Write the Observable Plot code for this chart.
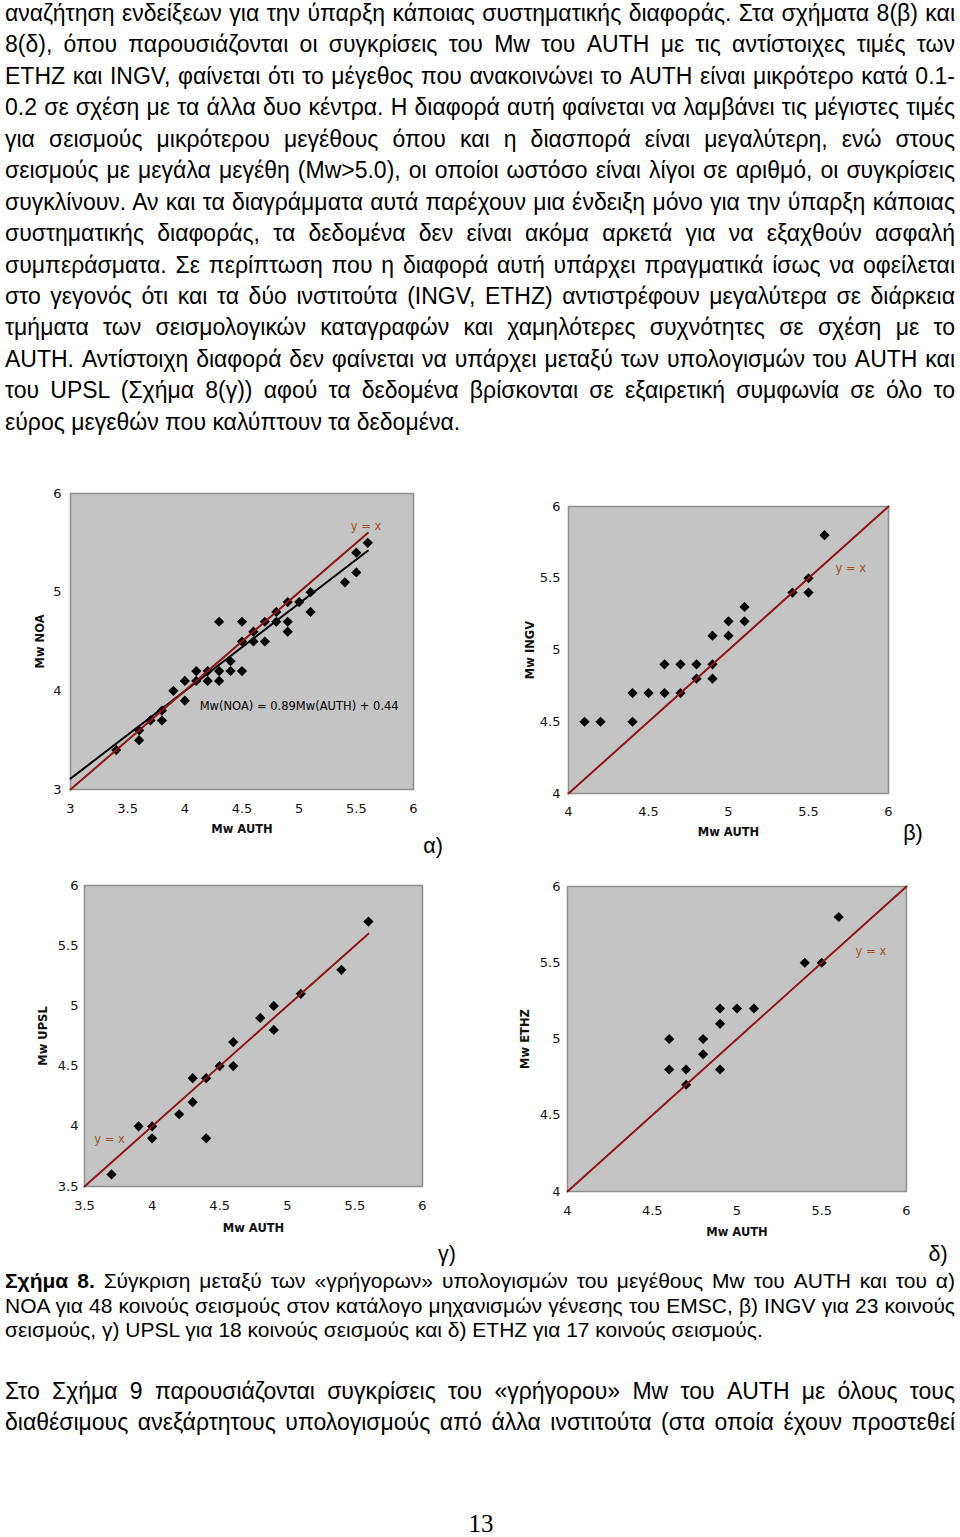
<!DOCTYPE html>
<html><head><meta charset="utf-8">
<script src="https://cdn.jsdelivr.net/npm/d3@7"></script>
<script src="https://cdn.jsdelivr.net/npm/@observablehq/plot@0.6"></script>
<style>
html,body{margin:0;padding:0;background:#fff;}
body{width:960px;height:1537px;position:relative;overflow:hidden;font-family:"Liberation Sans",Arial,sans-serif;color:#000;}
.ln{position:absolute;left:5px;width:950px;white-space:nowrap;}
.j{text-align:justify;text-align-last:justify;white-space:normal;}
.abs{position:absolute;}
.plot{position:absolute;}
</style></head>
<body>
<div id="page"></div>
<script>
// ---------- text ----------
const para1 = [
"αναζήτηση ενδείξεων για την ύπαρξη κάποιας συστηματικής διαφοράς. Στα σχήματα 8(β) και",
"8(δ), όπου παρουσιάζονται οι συγκρίσεις του Mw του AUTH με τις αντίστοιχες τιμές των",
"ETHZ και INGV, φαίνεται ότι το μέγεθος που ανακοινώνει το AUTH είναι μικρότερο κατά 0.1-",
"0.2 σε σχέση με τα άλλα δυο κέντρα. Η διαφορά αυτή φαίνεται να λαμβάνει τις μέγιστες τιμές",
"για σεισμούς μικρότερου μεγέθους όπου και η διασπορά είναι μεγαλύτερη, ενώ στους",
"σεισμούς με μεγάλα μεγέθη (Mw>5.0), οι οποίοι ωστόσο είναι λίγοι σε αριθμό, οι συγκρίσεις",
"συγκλίνουν. Αν και τα διαγράμματα αυτά παρέχουν μια ένδειξη μόνο για την ύπαρξη κάποιας",
"συστηματικής διαφοράς, τα δεδομένα δεν είναι ακόμα αρκετά για να εξαχθούν ασφαλή",
"συμπεράσματα. Σε περίπτωση που η διαφορά αυτή υπάρχει πραγματικά ίσως να οφείλεται",
"στο γεγονός ότι και τα δύο ινστιτούτα (INGV, ETHZ) αντιστρέφουν μεγαλύτερα σε διάρκεια",
"τμήματα των σεισμολογικών καταγραφών και χαμηλότερες συχνότητες σε σχέση με το",
"AUTH. Αντίστοιχη διαφορά δεν φαίνεται να υπάρχει μεταξύ των υπολογισμών του AUTH και",
"του UPSL (Σχήμα 8(γ)) αφού τα δεδομένα βρίσκονται σε εξαιρετική συμφωνία σε όλο το",
"εύρος μεγεθών που καλύπτουν τα δεδομένα."
];
const captionBold = "Σχήμα 8.";
const caption = [
" Σύγκριση μεταξύ των «γρήγορων» υπολογισμών του μεγέθους Mw του AUTH και του α)",
"NOA για 48 κοινούς σεισμούς στον κατάλογο μηχανισμών γένεσης του EMSC, β) INGV για 23 κοινούς",
"σεισμούς, γ) UPSL για 18 κοινούς σεισμούς και δ) ETHZ για 17 κοινούς σεισμούς."
];
const para2 = [
"Στο Σχήμα 9 παρουσιάζονται συγκρίσεις του «γρήγορου» Mw του AUTH με όλους τους",
"διαθέσιμους ανεξάρτητους υπολογισμούς από άλλα ινστιτούτα (στα οποία έχουν προστεθεί"
];
const panelLabels = ["α)", "β)", "γ)", "δ)"];
const pageNumber = "13";

// ---------- data ----------
// (α) NOA vs AUTH
const noaAuth = [3.4,3.6,3.6,3.7,3.8,3.8,3.9,4.0,4.0,4.1,4.1,4.2,4.2,4.3,4.3,4.3,4.4,4.4,4.5,4.5,4.5,4.6,4.6,4.7,4.7,4.8,4.8,4.9,4.9,4.9,5.0,5.1,5.1,5.4,5.5,5.5,5.6];
const noaMw   = [3.4,3.6,3.5,3.7,3.8,3.7,4.0,4.1,3.9,4.2,4.1,4.2,4.1,4.7,4.2,4.1,4.3,4.2,4.7,4.5,4.2,4.6,4.5,4.7,4.5,4.8,4.7,4.9,4.7,4.6,4.9,5.0,4.8,5.1,5.4,5.2,5.5];
const noaFitX = [3, 5.6];
const noaFitY = [3.11, 5.42];
const noaUnityX = [3, 5.6];
// (β) INGV vs AUTH
const ingvAuth = [4.1,4.2,4.4,4.4,4.5,4.6,4.6,4.7,4.7,4.8,4.8,4.9,4.9,4.9,5.0,5.0,5.1,5.1,5.4,5.5,5.5,5.6];
const ingvMw   = [4.5,4.5,4.7,4.5,4.7,4.9,4.7,4.9,4.7,4.9,4.8,5.1,4.9,4.8,5.2,5.1,5.3,5.2,5.4,5.5,5.4,5.8];
const ingvUnityX = [4, 6];
// (γ) UPSL vs AUTH
const upslAuth = [3.7,3.9,4.0,4.0,4.2,4.3,4.3,4.4,4.4,4.5,4.6,4.6,4.8,4.9,4.9,5.1,5.4,5.6];
const upslMw   = [3.6,4.0,4.0,3.9,4.1,4.4,4.2,4.4,3.9,4.5,4.7,4.5,4.9,5.0,4.8,5.1,5.3,5.7];
const upslUnityX = [3.5, 5.6];
// (δ) ETHZ vs AUTH
const ethzAuth = [4.6,4.6,4.7,4.7,4.8,4.8,4.9,4.9,4.9,5.0,5.1,5.4,5.5,5.6];
const ethzMw   = [5.0,4.8,4.8,4.7,5.0,4.9,5.2,5.1,4.8,5.2,5.2,5.5,5.5,5.8];
const ethzUnityX = [4, 6];

// ticks
const ticksA = {x:[3,3.5,4,4.5,5,5.5,6], y:[3,4,5,6]};
const ticksB = {x:[4,4.5,5,5.5,6], y:[4,4.5,5,5.5,6]};
const ticksC = {x:[3.5,4,4.5,5,5.5,6], y:[3.5,4,4.5,5,5.5,6]};
const ticksD = {x:[4,4.5,5,5.5,6], y:[4,4.5,5,5.5,6]};

// ---------- page text ----------
const page = document.getElementById("page");
function addLine(html, cy, fs, justify) {
  const d = document.createElement("div");
  d.className = "ln";
  d.style.fontSize = fs + "px";
  d.style.lineHeight = fs + "px";
  d.style.height = fs + "px";
  d.style.top = (cy - 0.55 * fs) + "px";
  d.innerHTML = "<span>" + html + "</span>";
  page.appendChild(d);
  if (justify) {
    const w = d.firstChild.getBoundingClientRect().width;
    if (w > 946) d.style.fontSize = (fs * 946 / w) + "px";
    d.className = "ln j";
  }
}
const bodyFs = 23;
para1.forEach((t, i) => addLine(t, 14.5 + 31.46 * i, bodyFs, i < para1.length - 1));
caption.forEach((t, i) => {
  const html = i === 0 ? "<b>" + captionBold + "</b>" + t : t;
  addLine(html, 1282 + 24.5 * i, 21, i < caption.length - 1);
});
para2.forEach((t, i) => addLine(t, 1392.5 + 31 * i, bodyFs, true));
function addAbs(text, cx, cy, fs, family) {
  const d = document.createElement("div");
  d.className = "abs";
  d.style.fontSize = fs + "px";
  d.style.lineHeight = fs + "px";
  d.style.left = (cx - 100) + "px";
  d.style.width = "200px";
  d.style.textAlign = "center";
  d.style.top = (cy - 0.55 * fs) + "px";
  if (family) d.style.fontFamily = family;
  d.textContent = text;
  page.appendChild(d);
}
addAbs(panelLabels[0], 433, 848, 21.5);
addAbs(panelLabels[1], 913, 835, 21.5);
addAbs(panelLabels[2], 447, 1256, 21.5);
addAbs(panelLabels[3], 938, 1256, 21.5);
addAbs(pageNumber, 481, 1525, 25, "'Liberation Serif','Times New Roman',serif");

// ---------- charts ----------
const unityColor = "#8f1515";
const labelColor = "#a0522d";
const bg = "#c4c4c4";
function chart(cfg) {
  const pts = cfg.xs.map((x, i) => ({x, y: cfg.ys[i]}));
  const unity = cfg.unityX.map(v => ({x: v, y: v}));
  const marks = [
    Plot.frame({fill: bg, stroke: "#8e8e8e", strokeWidth: 1.5}),
    Plot.dot(pts, {x: "x", y: "y", symbol: "diamond2", r: 4.6, fill: "black", stroke: "none"})
  ];
  if (cfg.fitX) {
    const fit = cfg.fitX.map((x, i) => ({x, y: cfg.fitY[i]}));
    marks.push(Plot.line(fit, {x: "x", y: "y", stroke: "black", strokeWidth: 2}));
  }
  marks.push(Plot.line(unity, {x: "x", y: "y", stroke: unityColor, strokeWidth: 2}));
  marks.push(Plot.text([cfg.unityLabel], {x: d => d.x, y: d => d.y, text: () => "y = x", fill: labelColor, fontSize: 11.5}));
  if (cfg.eq) marks.push(Plot.text([cfg.eq], {x: d => d.x, y: d => d.y, text: d => d.t, textAnchor: "start", fill: "black", fontSize: 11.5}));
  marks.push(Plot.axisX({ticks: cfg.ticks.x, tickSize: 0, tickPadding: cfg.xPad, label: null, tickFormat: d => String(d)}));
  marks.push(Plot.axisY({ticks: cfg.ticks.y, tickSize: 0, tickPadding: cfg.yPad, label: null, tickFormat: d => String(d)}));
  marks.push(Plot.text(["Mw AUTH"], {frameAnchor: "bottom", dy: cfg.xTitleDy, textAnchor: "middle", lineAnchor: "middle", fontWeight: "bold", fontSize: 11.5}));
  marks.push(Plot.text([cfg.yTitle], {frameAnchor: "left", dx: cfg.yTitleDx, textAnchor: "middle", lineAnchor: "middle", rotate: -90, fontWeight: "bold", fontSize: 11.5}));
  const svg = Plot.plot({
    width: cfg.w, height: cfg.h,
    marginLeft: cfg.ml, marginTop: cfg.mt, marginRight: cfg.mr, marginBottom: cfg.mb,
    x: {domain: cfg.dom, axis: null},
    y: {domain: cfg.dom, axis: null},
    style: {fontFamily: "'DejaVu Sans', Verdana, sans-serif", fontSize: "13px", background: "transparent", overflow: "visible", color: "#111"},
    marks
  });
  const wrap = document.createElement("div");
  wrap.className = "plot";
  wrap.style.left = cfg.left + "px";
  wrap.style.top = cfg.top + "px";
  wrap.appendChild(svg);
  page.appendChild(wrap);
}

chart({xs: noaAuth, ys: noaMw, fitX: noaFitX, fitY: noaFitY, unityX: noaUnityX,
  unityLabel: {x: 5.585, y: 5.672}, eq: {x: 4.13, y: 3.845, t: "Mw(NOA) = 0.89Mw(AUTH) + 0.44"},
  ticks: ticksA, dom: [3, 6], yTitle: "Mw NOA",
  left: 0, top: 470, w: 440, h: 380, ml: 70, mt: 23, mr: 27, mb: 61,
  xPad: 14.5, yPad: 9, xTitleDy: 40, yTitleDx: -30});
chart({xs: ingvAuth, ys: ingvMw, unityX: ingvUnityX,
  unityLabel: {x: 5.765, y: 5.57},
  ticks: ticksB, dom: [4, 6], yTitle: "Mw INGV",
  left: 500, top: 480, w: 440, h: 380, ml: 68, mt: 26, mr: 52, mb: 67,
  xPad: 13.5, yPad: 8, xTitleDy: 39, yTitleDx: -38});
chart({xs: upslAuth, ys: upslMw, unityX: upslUnityX,
  unityLabel: {x: 3.685, y: 3.888},
  ticks: ticksC, dom: [3.5, 6], yTitle: "Mw UPSL",
  left: 0, top: 860, w: 450, h: 390, ml: 84, mt: 25, mr: 28, mb: 64,
  xPad: 14.5, yPad: 6, xTitleDy: 42, yTitleDx: -41.5});
chart({xs: ethzAuth, ys: ethzMw, unityX: ethzUnityX,
  unityLabel: {x: 5.79, y: 5.578},
  ticks: ticksD, dom: [4, 6], yTitle: "Mw ETHZ",
  left: 500, top: 860, w: 450, h: 390, ml: 67, mt: 26, mr: 44, mb: 59,
  xPad: 14.5, yPad: 7, xTitleDy: 41, yTitleDx: -42.5});
</script>
</body></html>
